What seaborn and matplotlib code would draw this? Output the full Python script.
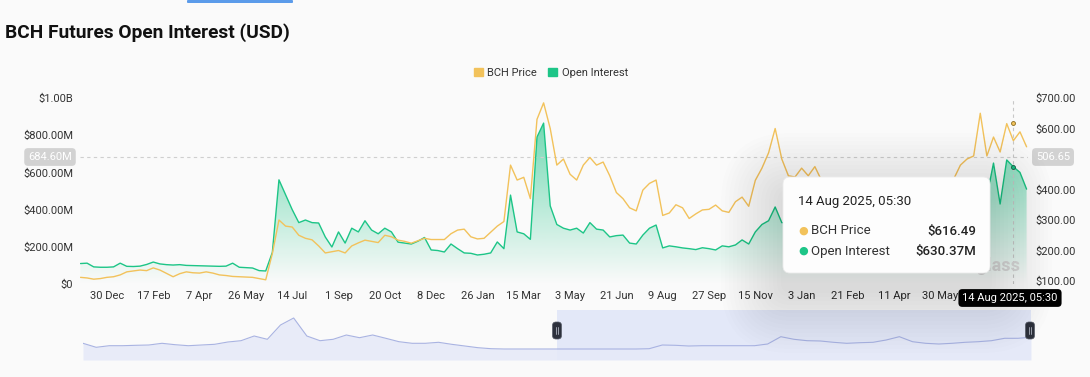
import matplotlib
matplotlib.use("Agg")
import matplotlib.pyplot as plt
import matplotlib.dates as mdates
import matplotlib.colors as mcolors
from matplotlib.patches import FancyBboxPatch, Patch
import numpy as np
import pandas as pd
import seaborn as sns

W, H = 1090, 377

# weekly samples starting 2 Dec 2022
start_date = "2022-12-02"
price = [
    112, 110, 106, 108, 112, 114, 120, 130, 133, 136,
    134, 143, 136, 125, 114, 124, 130, 127, 126, 130,
    126, 120, 118, 115, 114, 113, 112, 108, 104, 190,
    300, 280, 277, 250, 240, 235, 215, 192, 196, 200,
    192, 215, 225, 234, 230, 226, 250, 245, 234, 230,
    224, 232, 240, 236, 236, 236, 255, 267, 270, 245,
    238, 240, 260, 280, 295, 480, 431, 440, 370, 630,
    684, 600, 480, 500, 450, 431, 480, 505, 480, 490,
    445, 390, 370, 340, 330, 398, 420, 431, 315, 323,
    350, 340, 305, 320, 333, 335, 349, 330, 325, 360,
    375, 345, 430, 470, 520, 600, 500, 445, 441, 470,
    445, 475, 430, 410, 390, 360, 330, 320, 330, 335,
    340, 330, 345, 350, 380, 400, 420, 410, 400, 420,
    425, 430, 435, 480, 500, 510, 650, 510, 572, 523,
    616, 560, 589, 540,
]
open_interest_m = [
    110, 112, 92, 90, 90, 92, 112, 95, 94, 96,
    105, 118, 108, 104, 102, 104, 100, 99, 98, 97,
    96, 95, 96, 112, 90, 88, 86, 72, 70, 170,
    560, 480, 400, 330, 344, 330, 328, 253, 199, 280,
    220, 300, 280, 340, 290, 270, 300, 280, 225, 220,
    215, 230, 250, 183, 180, 172, 215, 190, 167, 165,
    156, 160, 167, 226, 190, 478, 280, 270, 240, 790,
    865, 420, 320, 300, 290, 300, 274, 330, 295, 290,
    253, 260, 263, 220, 215, 263, 300, 317, 194, 205,
    200, 194, 190, 185, 195, 190, 183, 205, 200, 210,
    237, 215, 280, 320, 340, 414, 330, 330, 315, 305,
    300, 290, 280, 265, 250, 240, 232, 228, 220, 225,
    235, 240, 250, 255, 280, 300, 310, 320, 335, 340,
    360, 400, 480, 560, 500, 520, 540, 470, 650, 430,
    667, 630, 600, 510,
]
nav_values = [
    16.7, 12.7, 14.3, 14.3, 14.7, 15.0, 16.7, 15.3, 14.3, 15.0,
    15.7, 18.0, 19.3, 24.0, 20.7, 35.0, 42.0, 24.0, 19.3, 20.7,
    25.0, 22.3, 25.0, 21.7, 18.3, 16.7, 16.7, 17.7, 15.7, 14.0,
    12.3, 11.3, 11.0, 11.0, 11.0, 11.0, 11.0, 11.0, 11.0, 11.0,
    11.0, 11.0, 11.0, 11.3, 15.0, 14.7, 14.0, 14.3, 14.3, 14.3,
    14.3, 14.3, 16.0, 23.3, 20.7, 19.3, 19.0, 17.7, 16.7, 17.3,
    17.7, 20.0, 23.3, 18.3, 16.7, 16.0, 16.7, 17.7, 18.3, 19.3,
    21.7, 21.7, 22.7,
]
tick_dates = [
    "2022-12-30", "2023-02-17", "2023-04-07", "2023-05-26", "2023-07-14",
    "2023-09-01", "2023-10-20", "2023-12-08", "2024-01-26", "2024-03-15",
    "2024-05-03", "2024-06-21", "2024-08-09", "2024-09-27", "2024-11-15",
    "2025-01-03", "2025-02-21", "2025-04-11", "2025-05-30",
]
oi_ticks = [0, 200e6, 400e6, 600e6, 800e6, 1000e6]
oi_tick_labels = ["$0", "$200.00M", "$400.00M", "$600.00M", "$800.00M", "$1.00B"]
# the $500.00 label sits under the cursor badge in the reference
price_ticks = [100, 200, 300, 400, 600, 700]
price_tick_labels = ["$100.00", "$200.00", "$300.00", "$400.00", "$600.00", "$700.00"]

hover_time = "2025-08-14 05:30"
hover_label = "14 Aug 2025, 05:30"
hover_price = 616.49
hover_oi = 630.37e6
cursor_oi = 684.60e6
cursor_price = 506.65

YELLOW = "#f2c25b"
GREEN = "#1dc587"
BG = "#fafafa"
TXT = "#333333"

sns.set_theme(style="white")
plt.rcParams["font.family"] = ["Roboto", "DejaVu Sans"]

df = pd.DataFrame({
    "date": pd.date_range(start_date, periods=len(price), freq="7D"),
    "price": price,
    "oi": np.array(open_interest_m) * 1e6,
})


def fx(x):
    return x / W


def fy(y):
    return 1 - y / H


fig = plt.figure(figsize=(W / 100, H / 100), dpi=100, facecolor=BG)

ax = fig.add_axes([fx(80), fy(284), fx(1028) - fx(80), (284 - 98) / H])
ax.set_facecolor(BG)
ax2 = ax.twinx()

# OI gradient area
x_num = mdates.date2num(df["date"])
poly = ax.fill_between(x_num, df["oi"], 0, facecolor="none", edgecolor="none")
grad = np.zeros((256, 1, 4))
grad[:, 0, :3] = mcolors.to_rgb(GREEN)
grad[:, 0, 3] = np.linspace(0.0, 0.7, 256)
img = ax.imshow(grad, extent=[x_num[0], x_num[-1], 0, 1e9], aspect="auto",
                origin="lower", zorder=1, interpolation="bilinear")
img.set_clip_path(poly.get_paths()[0], transform=ax.transData)

sns.lineplot(data=df, x="date", y="oi", ax=ax, color=GREEN, linewidth=1.0, zorder=3)
sns.lineplot(data=df, x="date", y="price", ax=ax2, color=YELLOW, linewidth=1.0, zorder=3)

x0 = df["date"].iloc[0] - pd.Timedelta(days=0.5)
x1 = df["date"].iloc[-1] + pd.Timedelta(days=1.5)
ax.set_xlim(x0, x1)
ax.set_ylim(0, 1e9)
ax2.set_ylim(90.2, 700)

ax.set_yticks(oi_ticks)
ax.set_yticklabels(oi_tick_labels)
ax2.set_yticks(price_ticks)
ax2.set_yticklabels(price_tick_labels)
tds = pd.to_datetime(tick_dates)
ax.set_xticks(tds)
ax.set_xticklabels([f"{d.day} {d.strftime('%b')}" for d in tds])
for a in (ax, ax2):
    a.tick_params(length=0, labelsize=8, colors=TXT, pad=5)
    a.set_xlabel("")
    a.set_ylabel("")
    for s in a.spines.values():
        s.set_visible(False)
ax.grid(False)
ax2.grid(False)

# crosshair
ht = pd.Timestamp(hover_time)
ax.axhline(cursor_oi, color="#cfcfcf", lw=0.8, ls=(0, (3, 3)), zorder=2)
ax.axvline(ht, color="#c8c8c8", lw=0.8, ls=(0, (3, 3)), zorder=2)
ax2.scatter([ht], [hover_price], s=8, color=YELLOW, edgecolor="#8a6d22", lw=0.6, zorder=5)
ax.scatter([ht], [hover_oi], s=8, color=GREEN, edgecolor="#1b5e45", lw=0.6, zorder=5)

fig.text(fx(50), fy(157), f"{cursor_oi / 1e6:.2f}M", ha="center", va="center", fontsize=8,
         color="white", bbox=dict(boxstyle="round,pad=0.35", fc="#d2d2d2", ec="none"))
fig.text(fx(1053), fy(157), f"{cursor_price:.2f}", ha="center", va="center", fontsize=8,
         color="white", bbox=dict(boxstyle="round,pad=0.35", fc="#d2d2d2", ec="none"))

# watermark, mostly hidden by the tooltip
fig.text(fx(1020), fy(266), "coinglass", ha="right", va="center", fontsize=13,
         fontweight="bold", color="#d8d8d8", zorder=4)

# title and legend
fig.text(fx(5), fy(33), "BCH Futures Open Interest (USD)", ha="left", va="center",
         fontsize=13.8, fontweight="bold", color="#111111")
fig.legend(handles=[Patch(color=YELLOW), Patch(color=GREEN)],
           labels=["BCH Price", "Open Interest"], loc="center",
           bbox_to_anchor=(fx(551), fy(73)), ncol=2, frameon=False, fontsize=8,
           handlelength=0.8, handleheight=0.8, handletextpad=0.4, columnspacing=1.0,
           labelcolor=TXT)
fig.add_artist(FancyBboxPatch((187 / 100, (H - 3) / 100), 106 / 100, 3 / 100,
                              boxstyle="round,pad=0,rounding_size=0.01",
                              transform=fig.dpi_scale_trans, fc="#5b9bea", ec="none"))

# navigator
n = len(nav_values)
nav_idx = np.arange(n)
ax_nav = fig.add_axes([fx(83), fy(360), fx(1031) - fx(83), (360 - 310) / H])
ax_nav.patch.set_alpha(0)
sel0 = (557 - 83) / (1031 - 83) * (n - 1)
ax_nav.axvspan(sel0, n - 1, color="#dfe5f8", alpha=0.85, lw=0, zorder=0)
ax_nav.fill_between(nav_idx, nav_values, 0, color="#e6eaf8", alpha=0.9, lw=0, zorder=1)
sns.lineplot(x=nav_idx, y=nav_values, ax=ax_nav, color="#a9b3e2", linewidth=0.8, zorder=2)
ax_nav.set_xlim(0, n - 1)
ax_nav.set_ylim(0, 50)
ax_nav.axis("off")

for hx in (557, 1030):
    fig.add_artist(FancyBboxPatch(((hx - 4.5) / 100, (H - 339) / 100), 9 / 100, 17 / 100,
                                  boxstyle="round,pad=0,rounding_size=0.035",
                                  transform=fig.dpi_scale_trans, fc="#2d313c", ec="#555a66",
                                  lw=0.5, zorder=8))
    for dx in (-1.2, 1.2):
        fig.add_artist(plt.Line2D([(hx + dx) / 100] * 2, [(H - 334) / 100, (H - 327) / 100],
                                  transform=fig.dpi_scale_trans, color="#aeb3bf", lw=0.6, zorder=9))

# tooltip soft shadow + box
tx, ty, tw, th = 783, 177, 207, 96
for k in range(16):
    g = 2 + k * 4
    fig.add_artist(FancyBboxPatch(((tx - g) / 100, (H - (ty + th + g + 18)) / 100),
                                  (tw + 2 * g) / 100, (th + 2 * g) / 100,
                                  boxstyle=f"round,pad=0,rounding_size={(g + 8) / 100:.3f}",
                                  transform=fig.dpi_scale_trans, fc="black", ec="none",
                                  alpha=0.009, zorder=9))
fig.add_artist(FancyBboxPatch((tx / 100, (H - ty - th) / 100), tw / 100, th / 100,
                              boxstyle="round,pad=0,rounding_size=0.07",
                              transform=fig.dpi_scale_trans, fc="#fdfdfd", ec="#ececec",
                              lw=0.6, zorder=10))
fig.text(fx(798), fy(201), hover_label, ha="left", va="center", fontsize=9.5,
         color="#222222", zorder=11)
for yy, col, lab, val in [(231, YELLOW, "BCH Price", f"${hover_price:.2f}"),
                          (251, GREEN, "Open Interest", f"${hover_oi / 1e6:.2f}M")]:
    fig.text(fx(803), fy(yy), "\u25cf", ha="center", va="center", fontsize=8, color=col, zorder=11)
    fig.text(fx(811), fy(yy), lab, ha="left", va="center", fontsize=9.5, color="#333333", zorder=11)
    fig.text(fx(976), fy(yy), val, ha="right", va="center", fontsize=9.5, color="#222222",
             fontweight="medium", zorder=11)

fig.text(fx(1010), fy(298), hover_label, ha="center", va="center", fontsize=8, color="white",
         zorder=12, bbox=dict(boxstyle="round,pad=0.35", fc="black", ec="none"))

fig.savefig("out.png", dpi=100, facecolor=BG)
